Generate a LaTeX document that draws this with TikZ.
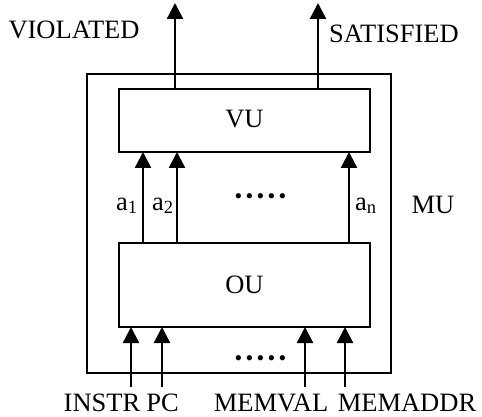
\documentclass[tikz,border=0pt]{standalone}
\usepackage{fontspec}
\setmainfont{Liberation Serif}
\usetikzlibrary{arrows.meta}
\begin{document}
\begin{tikzpicture}[x=1pt,y=-1pt,
  box/.style={draw,line width=2.2pt,inner sep=0pt,outer sep=0pt},
  sig/.style={line width=2.4pt,-{Triangle[width=16pt,length=16pt]}},
  lbl/.style={font=\fontsize{26.5}{30}\selectfont,inner sep=0pt,anchor=base},
  dotrow/.style={font=\fontsize{22}{22}\selectfont,inner sep=0pt}]
\useasboundingbox (0,0) rectangle (482,417);
% boxes
\node[box,minimum width=304pt,minimum height=299pt] (MUbox) at (239,223.5) {};
\node[box,minimum width=251pt,minimum height=63pt] (VU) at (244.5,120.5) {};
\node[box,minimum width=251pt,minimum height=84pt] (OU) at (244.5,285) {};
\node[lbl] (VUl) at (244.5,127.5) {VU};
\node[lbl] (OUl) at (244.5,293) {OU};
\node[lbl] (MUl) at (433,213) {MU};
% outputs
\coordinate (vout) at (175,3);
\coordinate (sout) at (318,3);
\draw[sig] (VU.north -| vout) -- (vout);
\draw[sig] (VU.north -| sout) -- (sout);
\node[lbl] (viol) at (74,38.3) {VIOLATED};
\node[lbl] (sat) at (394,42.7) {SATISFIED};
% internal signals
\coordinate (a1x) at (143,0);
\coordinate (a2x) at (177,0);
\coordinate (anx) at (349,0);
\draw[sig] (OU.north -| a1x) -- (VU.south -| a1x);
\draw[sig] (OU.north -| a2x) -- (VU.south -| a2x);
\draw[sig] (OU.north -| anx) -- (VU.south -| anx);
\node[lbl] (a1) at (127,210) {a\textsubscript{1}};
\node[lbl] (a2) at (163,210) {a\textsubscript{2}};
\node[lbl] (an) at (366,210) {a\textsubscript{n}};
\node[dotrow,anchor=base] (dots1) at (260.5,203) {•\hspace{3.3pt}•\hspace{3.3pt}•\hspace{3.3pt}•\hspace{3.3pt}•};
% inputs
\coordinate (in1) at (131,387);
\coordinate (in2) at (162,387);
\coordinate (in3) at (305,387);
\coordinate (in4) at (345,387);
\draw[sig] (in1) -- (OU.south -| in1);
\draw[sig] (in2) -- (OU.south -| in2);
\draw[sig] (in3) -- (OU.south -| in3);
\draw[sig] (in4) -- (OU.south -| in4);
\node[dotrow,anchor=base] (dots2) at (260.5,365) {•\hspace{3.3pt}•\hspace{3.3pt}•\hspace{3.3pt}•\hspace{3.3pt}•};
\node[lbl] (instr) at (102,411.7) {INSTR};
\node[lbl] (pc) at (162.5,411.7) {PC};
\node[lbl] (memval) at (271,411.7) {MEMVAL};
\node[lbl] (memaddr) at (407,411.7) {MEMADDR};
\end{tikzpicture}
\end{document}
